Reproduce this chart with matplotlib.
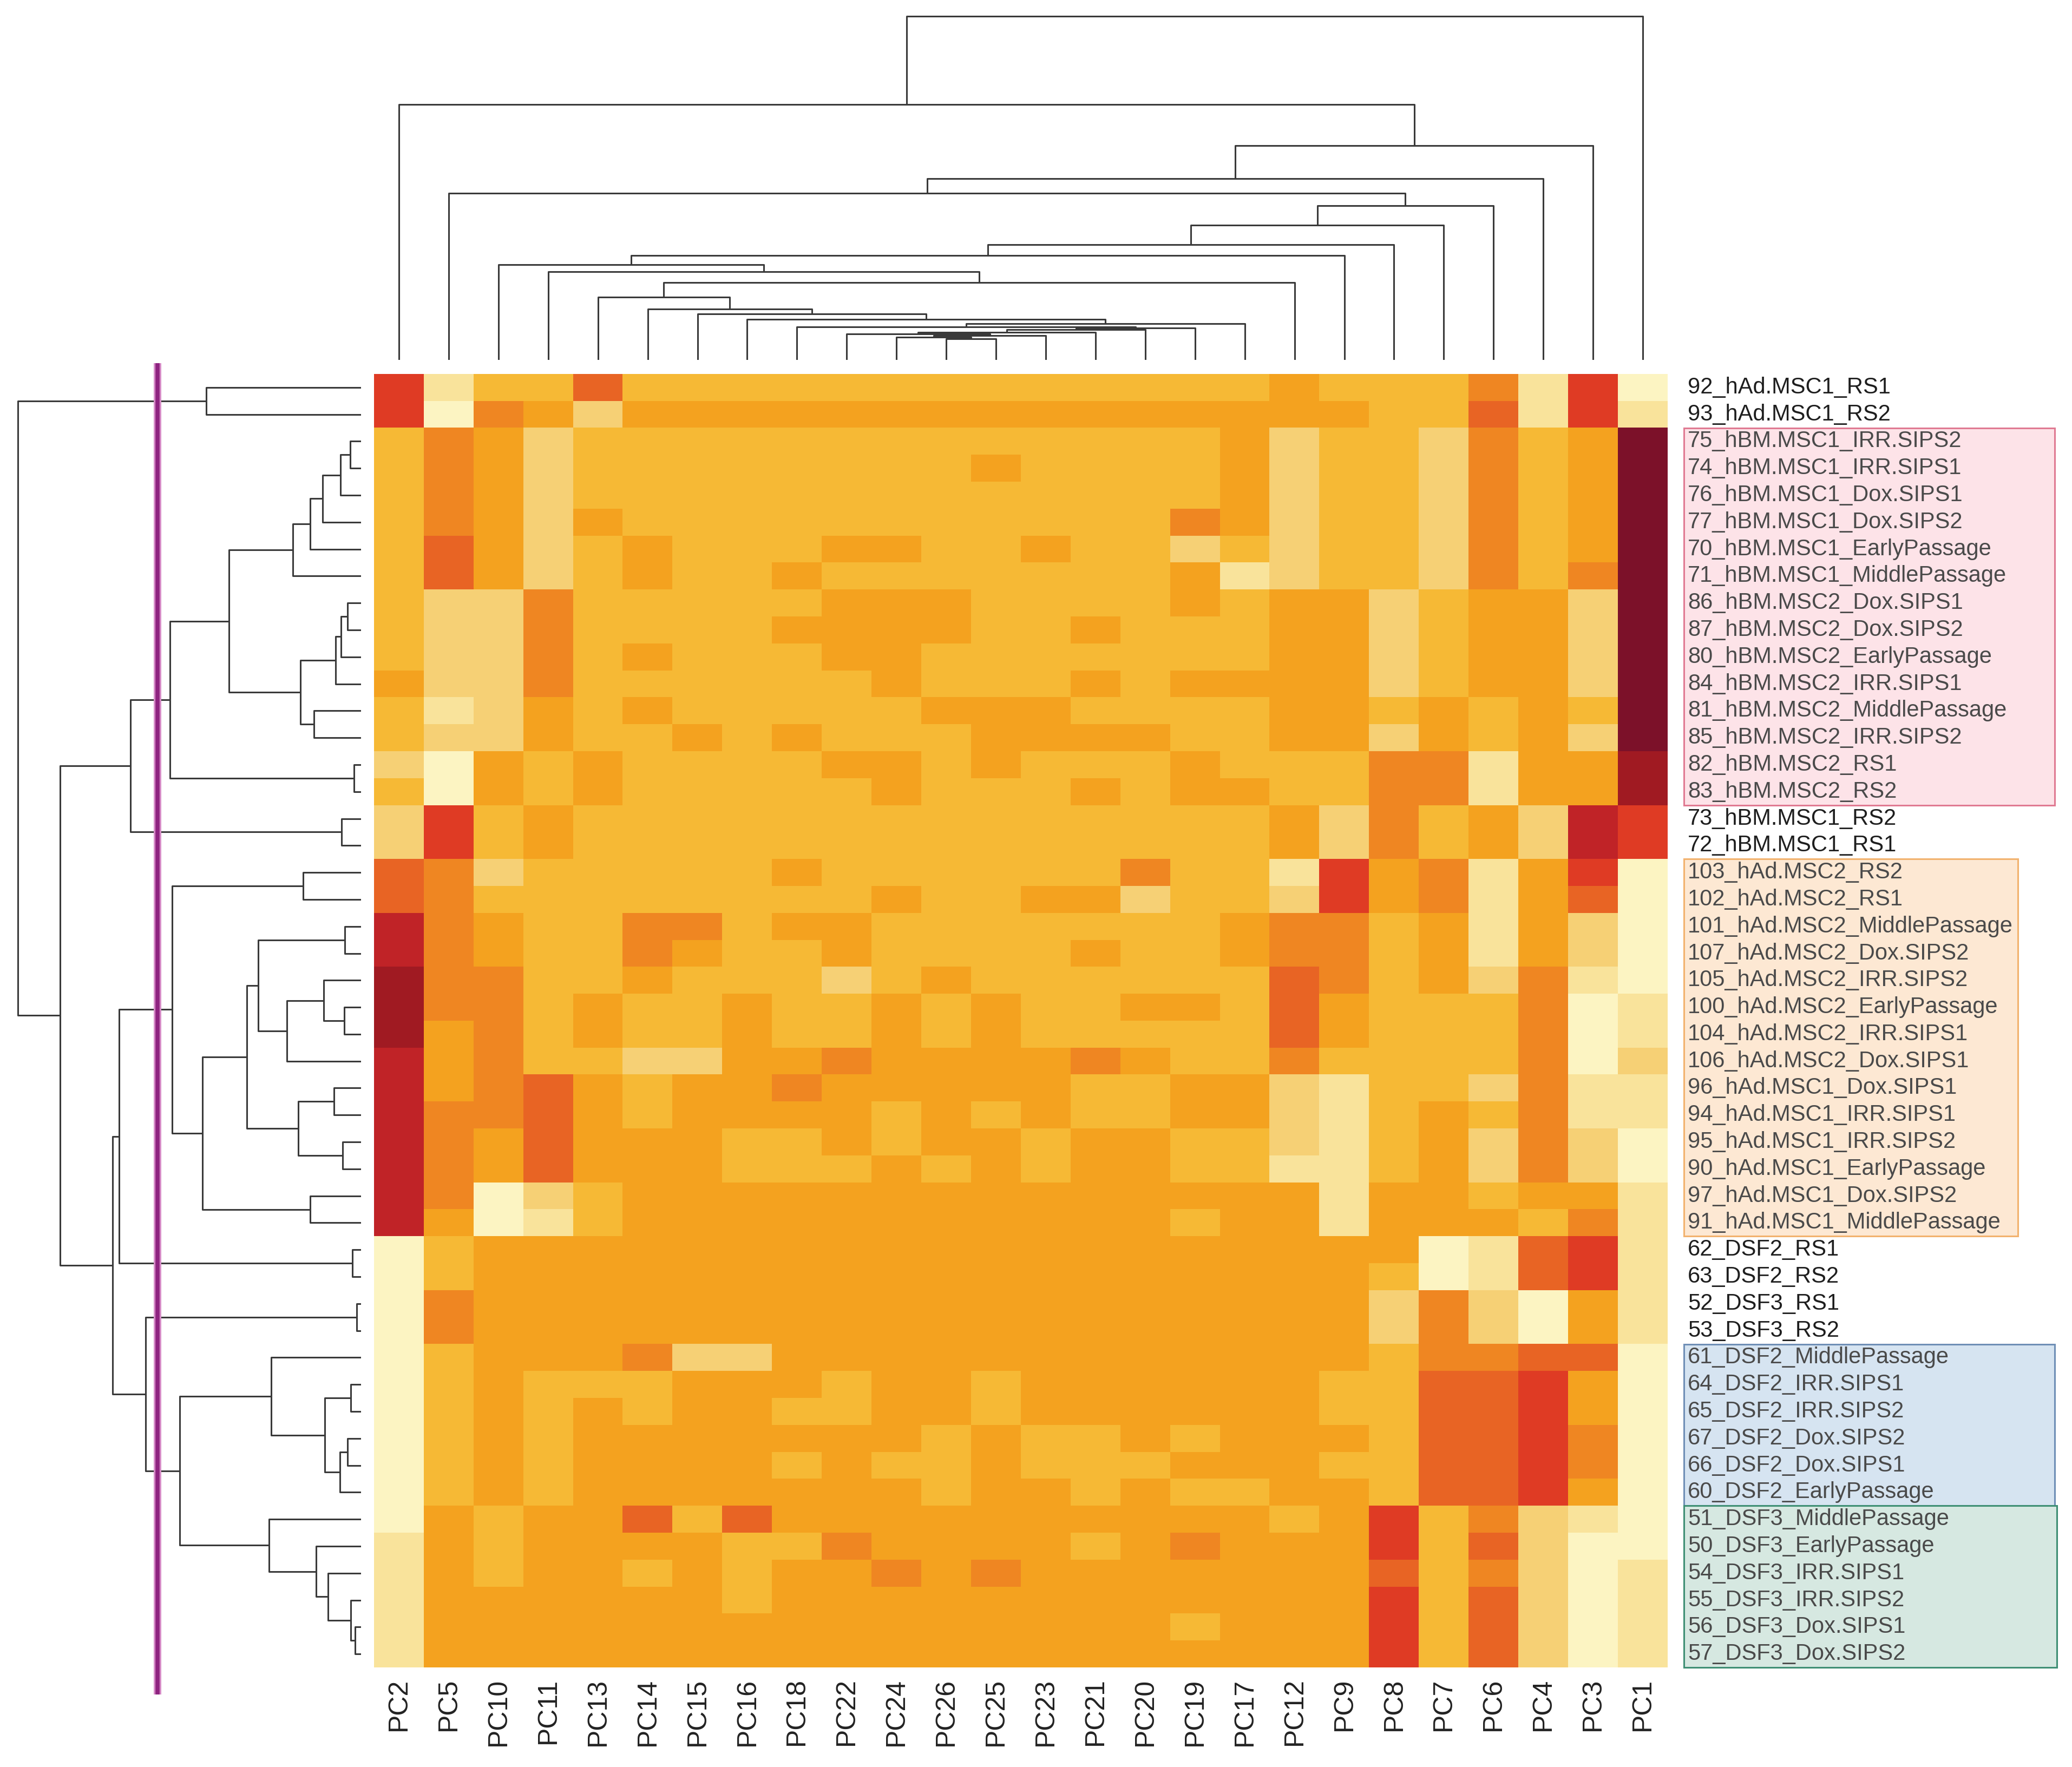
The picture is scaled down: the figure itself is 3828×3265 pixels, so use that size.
import numpy as np
import matplotlib
matplotlib.use("Agg")
import matplotlib.pyplot as plt
from matplotlib.colors import ListedColormap, BoundaryNorm
from matplotlib.patches import Rectangle

plt.rcParams['font.family'] = ['Liberation Sans', 'DejaVu Sans']

# ---------------- data ----------------
col_labels = ['PC2', 'PC5', 'PC10', 'PC11', 'PC13', 'PC14', 'PC15', 'PC16', 'PC18',
              'PC22', 'PC24', 'PC26', 'PC25', 'PC23', 'PC21', 'PC20', 'PC19', 'PC17',
              'PC12', 'PC9', 'PC8', 'PC7', 'PC6', 'PC4', 'PC3', 'PC1']

row_labels = ['92_hAd.MSC1_RS1', '93_hAd.MSC1_RS2',
              '75_hBM.MSC1_IRR.SIPS2', '74_hBM.MSC1_IRR.SIPS1', '76_hBM.MSC1_Dox.SIPS1',
              '77_hBM.MSC1_Dox.SIPS2', '70_hBM.MSC1_EarlyPassage', '71_hBM.MSC1_MiddlePassage',
              '86_hBM.MSC2_Dox.SIPS1', '87_hBM.MSC2_Dox.SIPS2', '80_hBM.MSC2_EarlyPassage',
              '84_hBM.MSC2_IRR.SIPS1', '81_hBM.MSC2_MiddlePassage', '85_hBM.MSC2_IRR.SIPS2',
              '82_hBM.MSC2_RS1', '83_hBM.MSC2_RS2',
              '73_hBM.MSC1_RS2', '72_hBM.MSC1_RS1',
              '103_hAd.MSC2_RS2', '102_hAd.MSC2_RS1', '101_hAd.MSC2_MiddlePassage',
              '107_hAd.MSC2_Dox.SIPS2', '105_hAd.MSC2_IRR.SIPS2', '100_hAd.MSC2_EarlyPassage',
              '104_hAd.MSC2_IRR.SIPS1', '106_hAd.MSC2_Dox.SIPS1', '96_hAd.MSC1_Dox.SIPS1',
              '94_hAd.MSC1_IRR.SIPS1', '95_hAd.MSC1_IRR.SIPS2', '90_hAd.MSC1_EarlyPassage',
              '97_hAd.MSC1_Dox.SIPS2', '91_hAd.MSC1_MiddlePassage',
              '62_DSF2_RS1', '63_DSF2_RS2', '52_DSF3_RS1', '53_DSF3_RS2',
              '61_DSF2_MiddlePassage', '64_DSF2_IRR.SIPS1', '65_DSF2_IRR.SIPS2',
              '67_DSF2_Dox.SIPS2', '66_DSF2_Dox.SIPS1', '60_DSF2_EarlyPassage',
              '51_DSF3_MiddlePassage', '50_DSF3_EarlyPassage', '54_DSF3_IRR.SIPS1',
              '55_DSF3_IRR.SIPS2', '56_DSF3_Dox.SIPS1', '57_DSF3_Dox.SIPS2']

# colour level of every cell (A = lowest ... K = highest), one string per row
cell_levels = [
    'HBDDGDDDDDDDD' 'DDDDDEDDDFBHA',
    'HAFECEEEEEEEE' 'EEEEEEEDDGBHB',
    'DFECDDDDDDDDD' 'DDDDECDDCFDEK',
    'DFECDDDDDDDDE' 'DDDDECDDCFDEK',
    'DFECDDDDDDDDD' 'DDDDECDDCFDEK',
    'DFECEDDDDDDDD' 'DDDFECDDCFDEK',
    'DGECDEDDDEEDD' 'EDDCDCDDCFDEK',
    'DGECDEDDEDDDD' 'DDDEBCDDCFDFK',
    'DCCFDDDDDEEED' 'DDDEDEECDEECK',
    'DCCFDDDDEEEED' 'DEDDDEECDEECK',
    'DCCFDEDDDEEDD' 'DDDDDEECDEECK',
    'ECCFDDDDDDEDD' 'DEDEEEECDEECK',
    'DBCEDEDDDDDEE' 'EDDDDEEDEDEDK',
    'DCCEDDEDEDDDE' 'EEEDDEECEDECK',
    'CAEDEDDDDEEDE' 'DDDEDDDFFBEEJ',
    'DAEDEDDDDDEDD' 'DEDEEDDFFBEEJ',
    'CHDEDDDDDDDDD' 'DDDDDECFDECIH',
    'CHDEDDDDDDDDD' 'DDDDDECFDECIH',
    'GFCDDDDDEDDDD' 'DDFDDBHEFBEHA',
    'GFDDDDDDDDEDD' 'EECDDCHEFBEGA',
    'IFEDDFFDEEDDD' 'DDDDEFFDEBECA',
    'IFEDDFEDDEDDD' 'DEDDEFFDEBECA',
    'JFFDDEDDDCDED' 'DDDDDGFDECFBA',
    'JFFDEDDEDDEDE' 'DDEEDGEDDDFAB',
    'JEFDEDDEDDEDE' 'DDDDDGEDDDFAB',
    'IEFDDCCEEFEEE' 'EFEDDFDDDDFAC',
    'IEFGEDEEFEEEE' 'EDDEECBDDCFBB',
    'IFFGEDEEEEDED' 'EDDEECBDEDFBB',
    'IFEGEEEDDEDEE' 'DEEDDCBDECFCA',
    'IFEGEEEDDDEDE' 'DEEDDBBDECFCA',
    'IFACDEEEEEEEE' 'EEEEEEBEEDEEB',
    'IEABDEEEEEEEE' 'EEEDEEBEEEDFB',
    'ADEEEEEEEEEEE' 'EEEEEEEEABGHB',
    'ADEEEEEEEEEEE' 'EEEEEEEDABGHB',
    'AFEEEEEEEEEEE' 'EEEEEEECFCAEB',
    'AFEEEEEEEEEEE' 'EEEEEEECFCAEB',
    'ADEEEFCCEEEEE' 'EEEEEEEDFFGGA',
    'ADEDDDEEEDEED' 'EEEEEEDDGGHEA',
    'ADEDEDEEDDEED' 'EEEEEEDDGGHEA',
    'ADEDEEEEEEEDE' 'DDEDEEEDGGHFA',
    'ADEDEEEEDEDDE' 'DDDEEEDDGGHFA',
    'ADEDEEEEEEEDE' 'EDEDDEEDGGHEA',
    'AEDEEGDGEEEEE' 'EEEEEDEHDFCBA',
    'BEDEEEEDDFEEE' 'EDEFEEEHDGCAA',
    'BEDEEDEDEEFEF' 'EEEEEEEGDFCAB',
    'BEEEEEEDEEEEE' 'EEEEEEEHDGCAB',
    'BEEEEEEEEEEEE' 'EEEDEEEHDGCAB',
    'BEEEEEEEEEEEE' 'EEEEEEEHDGCAB',
]
level_order = 'ABCDEFGHIJK'
level_colors = ['#fcf4c2', '#f9e39b', '#f6d075', '#f6b935', '#f4a21f', '#ef8622',
                '#e86424', '#df3b24', '#c02327', '#a01a22', '#7c1129']

# column dendrogram merges: (left node, right node, height)
col_merges = [(11, 12, 39), (10, 26, 42), (27, 13, 45), (9, 28, 48), (29, 14, 51),
              (30, 15, 56), (31, 16, 59), (8, 32, 61), (33, 17, 67), (7, 34, 75),
              (6, 35, 85), (5, 36, 94), (4, 37, 116), (38, 18, 143), (3, 39, 163),
              (2, 40, 176), (41, 19, 193), (42, 20, 213), (43, 21, 249), (44, 22, 285),
              (1, 45, 308), (46, 23, 335), (47, 24, 396), (0, 48, 472), (49, 25, 635)]

# row dendrogram merges: (left node, right node, height)
row_merges = [(0, 1, 640), (2, 3, 45), (49, 4, 85), (50, 5, 159), (51, 6, 210),
              (52, 7, 282), (8, 9, 55), (54, 10, 83), (55, 11, 105), (12, 13, 195),
              (56, 57, 250), (53, 58, 547), (14, 15, 30), (59, 60, 792), (16, 17, 80),
              (61, 62, 955), (18, 19, 240), (20, 21, 67), (23, 24, 70), (22, 66, 155),
              (67, 25, 307), (65, 68, 425), (26, 27, 113), (28, 29, 77), (70, 71, 260),
              (69, 72, 473), (30, 31, 210), (73, 74, 657), (64, 75, 782), (32, 33, 35),
              (76, 77, 1002), (34, 35, 17), (37, 38, 43), (39, 40, 55), (81, 41, 87),
              (80, 82, 150), (36, 83, 373), (46, 47, 25), (45, 85, 43), (44, 86, 137),
              (43, 87, 185), (42, 88, 382), (84, 89, 750), (79, 90, 892), (78, 91, 1029),
              (63, 92, 1247), (48, 93, 1420)]
cut_height = 842

# highlighted label groups: (first row, last row, fill, edge, right end)
label_groups = [(2, 15, '#fde3e8', '#e07a92', 715),
                (18, 31, '#fde8d3', '#f2b26e', 647),
                (36, 41, '#d6e4f1', '#6f8fb6', 715),
                (42, 47, '#d6e8e1', '#3f8f74', 719)]

# ---------------- figure ----------------
W, H = 3828, 3265
fig = plt.figure(figsize=(W / 100, H / 100), dpi=100)
fig.patch.set_facecolor('white')

def fx(px):
    return px / W

def fy(py_top):
    return 1 - py_top / H

hm_l, hm_r, hm_t, hm_b = 691, 3081, 691, 3081
ax = fig.add_axes([fx(hm_l), fy(hm_b), fx(hm_r - hm_l), (hm_b - hm_t) / H])

nrow, ncol = len(row_labels), len(col_labels)
mat = np.array([[level_order.index(c) for c in r] for r in cell_levels])
cmap = ListedColormap(level_colors)
norm = BoundaryNorm(np.arange(len(level_colors) + 1) - 0.5, cmap.N)
ax.imshow(mat, cmap=cmap, norm=norm, aspect='auto', interpolation='nearest',
          extent=(0, ncol, nrow, 0))
ax.set_xlim(0, ncol)
ax.set_ylim(nrow, 0)
ax.set_xticks(np.arange(ncol) + 0.5)
ax.set_xticklabels(col_labels, rotation=90, fontsize=36, color='#222222', va='top')
ax.set_yticks([])
ax.tick_params(axis='x', length=0, pad=14)
for s in ax.spines.values():
    s.set_visible(False)

line_kw = dict(color='#3a3a3a', lw=2.2, solid_capstyle='butt')

def draw_dendro(axd, merges, n, orient):
    pos = {i: i + 0.5 for i in range(n)}
    hgt = {i: 0.0 for i in range(n)}
    for k, (a, b, h) in enumerate(merges):
        node = n + k
        xa, xb, ha, hb = pos[a], pos[b], hgt[a], hgt[b]
        if orient == 'top':
            axd.plot([xa, xa, xb, xb], [ha, h, h, hb], **line_kw)
        else:
            axd.plot([ha, h, h, hb], [xa, xa, xb, xb], **line_kw)
        pos[node] = (xa + xb) / 2
        hgt[node] = h

# column dendrogram
axc = fig.add_axes([fx(hm_l), fy(665), fx(hm_r - hm_l), 665 / H])
draw_dendro(axc, col_merges, ncol, 'top')
axc.set_xlim(0, ncol)
axc.set_ylim(0, 665)
axc.axis('off')

# row dendrogram
axr = fig.add_axes([0, fy(hm_b), fx(667), (hm_b - hm_t) / H])
draw_dendro(axr, row_merges, nrow, 'left')
axr.set_xlim(1495, 0)
axr.set_ylim(nrow, 0)
axr.axis('off')
axr.plot([cut_height, cut_height], [-0.4, 49.0], color='#d58ac6', lw=10,
         clip_on=False, solid_capstyle='butt', zorder=5)
axr.plot([cut_height, cut_height], [-0.4, 49.0], color='#8e2380', lw=5.5,
         clip_on=False, solid_capstyle='butt', zorder=6)

# row labels with group boxes
axl = fig.add_axes([fx(hm_r), fy(hm_b), fx(W - hm_r), (hm_b - hm_t) / H])
axl.set_xlim(0, W - hm_r)
axl.set_ylim(nrow, 0)
axl.axis('off')
in_group = set()
for (r0, r1, fc, ec, xr) in label_groups:
    axl.add_patch(Rectangle((30, r0), xr - 30, r1 - r0 + 1, facecolor=fc,
                            edgecolor=ec, lw=2.2, clip_on=False, zorder=1))
    in_group.update(range(r0, r1 + 1))
for i, lab in enumerate(row_labels):
    axl.text(37, i + 0.5, lab, fontsize=30, va='center', ha='left',
             color='#4a4a4a' if i in in_group else '#1e1e1e', zorder=3, clip_on=False)

fig.savefig('out.png', dpi=100, facecolor='white')
